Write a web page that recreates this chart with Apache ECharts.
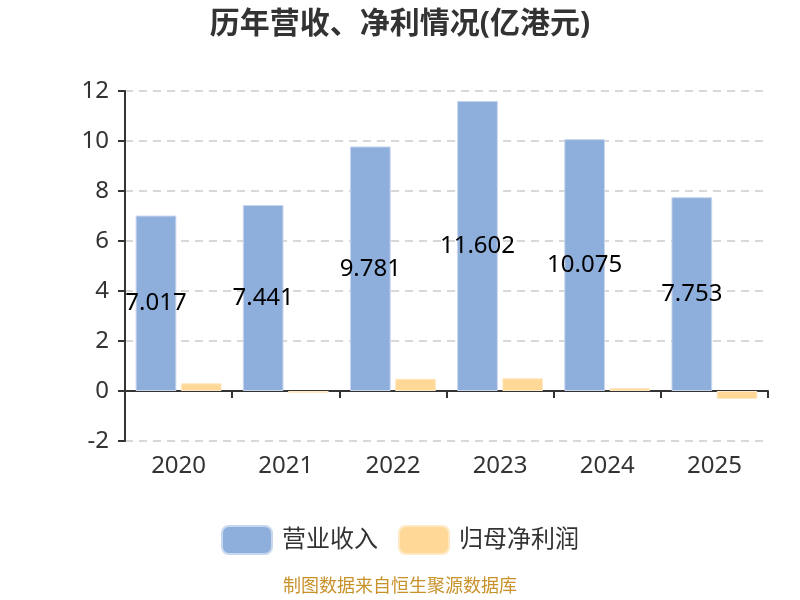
<!DOCTYPE html>
<html><head><meta charset="utf-8">
<script src="https://cdn.jsdelivr.net/npm/echarts@6/dist/echarts.min.js"></script>
<style>html,body{margin:0;padding:0;background:#fff}#c{width:800px;height:600px}</style>
</head><body><div id="c"></div>
<script>
const years = ['2020','2021','2022','2023','2024','2025'];
const revenue = [7.017, 7.441, 9.781, 11.602, 10.075, 7.753];
const netProfit = [0.31, -0.07, 0.49, 0.51, 0.12, -0.32];
const yTicks = {min: -2, max: 12, interval: 2};

const chart = echarts.init(document.getElementById('c'));
const font = '"Noto Sans", "Noto Sans CJK SC", sans-serif';
chart.setOption({
  animation: false,
  textStyle: {fontFamily: font},
  title: {
    text: '历年营收、净利情况(亿港元)', left: 'center', top: 4,
    textStyle: {fontSize: 30, fontWeight: 'bold', color: '#333', fontFamily: font}
  },
  legend: {
    top: 520, left: 'center', itemWidth: 50, itemHeight: 28, itemGap: 20,
    textStyle: {fontSize: 24, color: '#333', fontFamily: font, padding: [0, 0, 0, 5]},
    data: ['营业收入', '归母净利润']
  },
  graphic: [{
    type: 'text', left: 'center', top: 578,
    style: {text: '制图数据来自恒生聚源数据库', fill: '#c8922a', fontSize: 18, fontFamily: font}
  }],
  grid: {left: 125, right: 32, top: 91, bottom: 159},
  xAxis: {
    type: 'category', data: years,
    axisLine: {lineStyle: {color: '#333', width: 2}},
    axisTick: {show: true, length: 7, lineStyle: {color: '#333', width: 2}},
    axisLabel: {fontSize: 24, color: '#333', margin: 13}
  },
  yAxis: {
    type: 'value', min: yTicks.min, max: yTicks.max, interval: yTicks.interval,
    axisLine: {show: true, lineStyle: {color: '#333', width: 2}},
    axisTick: {show: true, length: 7, lineStyle: {color: '#333', width: 2}},
    axisLabel: {fontSize: 24, color: '#333', margin: 16},
    splitLine: {lineStyle: {type: [8, 6], color: '#ccc', width: 1.5}}
  },
  series: [{
    name: '营业收入', type: 'bar', data: revenue, barWidth: '38%', barGap: '11%',
    itemStyle: {color: '#8eaedb', borderColor: '#c8d7ee', borderWidth: 1},
    label: {show: true, position: 'inside', color: '#000', fontSize: 24, fontFamily: font}
  }, {
    name: '归母净利润', type: 'bar', data: netProfit, barWidth: '38%',
    itemStyle: {color: '#ffd898', borderColor: '#ffe9c4', borderWidth: 1}
  }]
});
</script></body></html>
